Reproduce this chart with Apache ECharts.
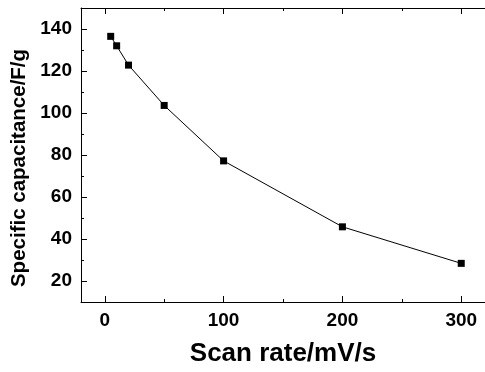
<!DOCTYPE html>
<html>
<head>
<meta charset="utf-8">
<script src="https://cdn.jsdelivr.net/npm/echarts@6/dist/echarts.min.js"></script>
<style>
  html, body { margin: 0; padding: 0; background: #fff; }
  #chart { width: 485px; height: 372px; }
</style>
</head>
<body>
<div id="chart"></div>
<script>
// scan rate (mV/s) vs specific capacitance (F/g)
const scanRates = [5, 10, 20, 50, 100, 200, 300];
const capacitance = [136.5, 132.0, 122.8, 103.6, 77.2, 45.8, 28.4];

const xMajorTicks = [0, 100, 200, 300];
const xMinorTicks = [50, 150, 250];
const yMajorTicks = [20, 40, 60, 80, 100, 120, 140];
const yMinorTicks = [30, 50, 70, 90, 110, 130];

const FONT = 'Liberation Sans, Arial, sans-serif';
const black = '#000';

const chart = echarts.init(document.getElementById('chart'));

const xBase = {
    type: 'value',
    min: -20,
    max: 320,
    splitLine: { show: false },
    axisLine: { show: false, onZero: false },
    axisLabel: { show: false },
    axisTick: { show: false }
};
const yBase = {
    type: 'value',
    min: 10,
    max: 150,
    splitLine: { show: false },
    axisLine: { show: false, onZero: false },
    axisLabel: { show: false },
    axisTick: { show: false }
};

const options = {
    animation: false,
    backgroundColor: '#fff',
    grid: {
        left: 81,
        top: 8,
        width: 407,
        height: 298
    },
    xAxis: [
        Object.assign({}, xBase, {
            position: 'bottom',
            name: 'Scan rate/mV/s',
            nameLocation: 'middle',
            nameGap: 39,
            nameTextStyle: { color: black, fontFamily: FONT, fontWeight: 'bold', fontSize: 26 },
            axisLine: { show: true, onZero: false, lineStyle: { color: black, width: 1 } },
            axisTick: { show: true, inside: true, length: 6, customValues: xMajorTicks, lineStyle: { color: black } },
            axisLabel: {
                show: true, margin: 9, customValues: xMajorTicks,
                color: black, fontFamily: FONT, fontWeight: 'bold', fontSize: 19
            }
        }),
        Object.assign({}, xBase, {
            position: 'bottom',
            axisTick: { show: true, inside: true, length: 3, customValues: xMinorTicks, lineStyle: { color: black } }
        }),
        Object.assign({}, xBase, {
            position: 'top',
            axisLine: { show: true, onZero: false, lineStyle: { color: black, width: 1 } },
            axisTick: { show: true, inside: true, length: 6, customValues: xMajorTicks, lineStyle: { color: black } }
        }),
        Object.assign({}, xBase, {
            position: 'top',
            axisTick: { show: true, inside: true, length: 3, customValues: xMinorTicks, lineStyle: { color: black } }
        })
    ],
    yAxis: [
        Object.assign({}, yBase, {
            position: 'left',
            name: 'Specific capacitance/F/g',
            nameLocation: 'middle',
            nameGap: 48,
            nameRotate: 90,
            nameTextStyle: {
                color: black, fontFamily: FONT, fontWeight: 'bold', fontSize: 20.5,
                padding: [0, 26, 0, 0]
            },
            axisLine: { show: true, onZero: false, lineStyle: { color: black, width: 1 } },
            axisTick: { show: true, inside: true, length: 6, customValues: yMajorTicks, lineStyle: { color: black } },
            axisLabel: {
                show: true, margin: 9, customValues: yMajorTicks,
                color: black, fontFamily: FONT, fontWeight: 'bold', fontSize: 19
            }
        }),
        Object.assign({}, yBase, {
            position: 'left',
            axisTick: { show: true, inside: true, length: 3, customValues: yMinorTicks, lineStyle: { color: black } }
        })
    ],
    series: [
        {
            type: 'line',
            xAxisIndex: 0,
            yAxisIndex: 0,
            data: scanRates.map((x, i) => [x, capacitance[i]]),
            symbol: 'rect',
            symbolSize: 7,
            itemStyle: { color: black },
            lineStyle: { color: black, width: 1 }
        }
    ]
};

chart.setOption(options);
</script>
</body>
</html>
